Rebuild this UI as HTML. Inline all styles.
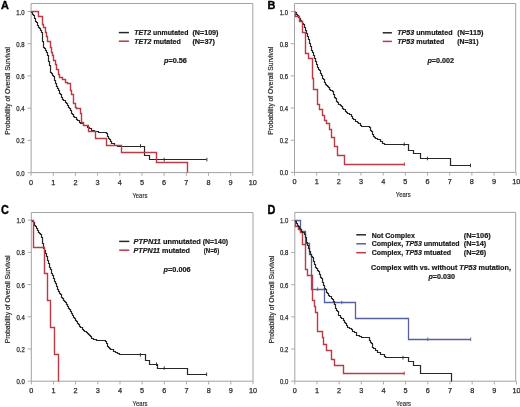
<!DOCTYPE html>
<html><head><meta charset="utf-8"><style>
html,body{margin:0;padding:0;background:#fff;}
svg{display:block;}
text{font-family:"Liberation Sans", sans-serif;}
</style></head><body>
<svg width="520" height="407" viewBox="0 0 520 407">
<defs><filter id="bl" x="0" y="0" width="100%" height="100%"><feGaussianBlur stdDeviation="0.35"/></filter></defs>
<rect width="520" height="407" fill="#fff"/>
<g filter="url(#bl)">
<path d="M31.1,3.5 H252.8 V172.6 H31.1 Z" fill="none" stroke="#a2a2a2" stroke-width="1"/>
<line x1="27.5" y1="172.60" x2="31.1" y2="172.60" stroke="#a2a2a2" stroke-width="0.9"/>
<text x="24.6" y="175.60" text-anchor="end" font-size="7" fill="#2a2a2a" stroke="#2a2a2a" stroke-width="0.25" textLength="8.3" lengthAdjust="spacingAndGlyphs">0.0</text>
<line x1="27.5" y1="140.38" x2="31.1" y2="140.38" stroke="#a2a2a2" stroke-width="0.9"/>
<text x="24.6" y="143.38" text-anchor="end" font-size="7" fill="#2a2a2a" stroke="#2a2a2a" stroke-width="0.25" textLength="8.3" lengthAdjust="spacingAndGlyphs">0.2</text>
<line x1="27.5" y1="108.16" x2="31.1" y2="108.16" stroke="#a2a2a2" stroke-width="0.9"/>
<text x="24.6" y="111.16" text-anchor="end" font-size="7" fill="#2a2a2a" stroke="#2a2a2a" stroke-width="0.25" textLength="8.3" lengthAdjust="spacingAndGlyphs">0.4</text>
<line x1="27.5" y1="75.94" x2="31.1" y2="75.94" stroke="#a2a2a2" stroke-width="0.9"/>
<text x="24.6" y="78.94" text-anchor="end" font-size="7" fill="#2a2a2a" stroke="#2a2a2a" stroke-width="0.25" textLength="8.3" lengthAdjust="spacingAndGlyphs">0.6</text>
<line x1="27.5" y1="43.72" x2="31.1" y2="43.72" stroke="#a2a2a2" stroke-width="0.9"/>
<text x="24.6" y="46.72" text-anchor="end" font-size="7" fill="#2a2a2a" stroke="#2a2a2a" stroke-width="0.25" textLength="8.3" lengthAdjust="spacingAndGlyphs">0.8</text>
<line x1="27.5" y1="11.50" x2="31.1" y2="11.50" stroke="#a2a2a2" stroke-width="0.9"/>
<text x="24.6" y="14.50" text-anchor="end" font-size="7" fill="#2a2a2a" stroke="#2a2a2a" stroke-width="0.25" textLength="8.3" lengthAdjust="spacingAndGlyphs">1.0</text>
<line x1="31.10" y1="172.6" x2="31.10" y2="175.79999999999998" stroke="#a2a2a2" stroke-width="0.9"/>
<text x="31.10" y="184.50" text-anchor="middle" font-size="7.3" fill="#2a2a2a" stroke="#2a2a2a" stroke-width="0.25">0</text>
<line x1="53.27" y1="172.6" x2="53.27" y2="175.79999999999998" stroke="#a2a2a2" stroke-width="0.9"/>
<text x="53.27" y="184.50" text-anchor="middle" font-size="7.3" fill="#2a2a2a" stroke="#2a2a2a" stroke-width="0.25">1</text>
<line x1="75.44" y1="172.6" x2="75.44" y2="175.79999999999998" stroke="#a2a2a2" stroke-width="0.9"/>
<text x="75.44" y="184.50" text-anchor="middle" font-size="7.3" fill="#2a2a2a" stroke="#2a2a2a" stroke-width="0.25">2</text>
<line x1="97.61" y1="172.6" x2="97.61" y2="175.79999999999998" stroke="#a2a2a2" stroke-width="0.9"/>
<text x="97.61" y="184.50" text-anchor="middle" font-size="7.3" fill="#2a2a2a" stroke="#2a2a2a" stroke-width="0.25">3</text>
<line x1="119.78" y1="172.6" x2="119.78" y2="175.79999999999998" stroke="#a2a2a2" stroke-width="0.9"/>
<text x="119.78" y="184.50" text-anchor="middle" font-size="7.3" fill="#2a2a2a" stroke="#2a2a2a" stroke-width="0.25">4</text>
<line x1="141.95" y1="172.6" x2="141.95" y2="175.79999999999998" stroke="#a2a2a2" stroke-width="0.9"/>
<text x="141.95" y="184.50" text-anchor="middle" font-size="7.3" fill="#2a2a2a" stroke="#2a2a2a" stroke-width="0.25">5</text>
<line x1="164.12" y1="172.6" x2="164.12" y2="175.79999999999998" stroke="#a2a2a2" stroke-width="0.9"/>
<text x="164.12" y="184.50" text-anchor="middle" font-size="7.3" fill="#2a2a2a" stroke="#2a2a2a" stroke-width="0.25">6</text>
<line x1="186.29" y1="172.6" x2="186.29" y2="175.79999999999998" stroke="#a2a2a2" stroke-width="0.9"/>
<text x="186.29" y="184.50" text-anchor="middle" font-size="7.3" fill="#2a2a2a" stroke="#2a2a2a" stroke-width="0.25">7</text>
<line x1="208.46" y1="172.6" x2="208.46" y2="175.79999999999998" stroke="#a2a2a2" stroke-width="0.9"/>
<text x="208.46" y="184.50" text-anchor="middle" font-size="7.3" fill="#2a2a2a" stroke="#2a2a2a" stroke-width="0.25">8</text>
<line x1="230.63" y1="172.6" x2="230.63" y2="175.79999999999998" stroke="#a2a2a2" stroke-width="0.9"/>
<text x="230.63" y="184.50" text-anchor="middle" font-size="7.3" fill="#2a2a2a" stroke="#2a2a2a" stroke-width="0.25">9</text>
<line x1="252.80" y1="172.6" x2="252.80" y2="175.79999999999998" stroke="#a2a2a2" stroke-width="0.9"/>
<text x="252.80" y="184.50" text-anchor="middle" font-size="7.3" fill="#2a2a2a" stroke="#2a2a2a" stroke-width="0.25">10</text>
<text x="139.90" y="197.60" text-anchor="middle" font-size="6.6" fill="#2a2a2a" stroke="#2a2a2a" stroke-width="0.15" textLength="15.0" lengthAdjust="spacingAndGlyphs">Years</text>
<text transform="translate(9.90,90.85) rotate(-90)" x="0" y="0" text-anchor="middle" font-size="6.5" fill="#2a2a2a" stroke="#2a2a2a" stroke-width="0.18" textLength="87.8" lengthAdjust="spacingAndGlyphs">Probability of Overall Survival</text>
<text x="0.9" y="8.6" font-size="11.2" font-weight="bold" fill="#000" stroke="#000" stroke-width="0.35" textLength="7.9" lengthAdjust="spacingAndGlyphs">A</text>
<path d="M294.5,3.5 H515.7 V172.4 H294.5 Z" fill="none" stroke="#a2a2a2" stroke-width="1"/>
<line x1="290.9" y1="172.40" x2="294.5" y2="172.40" stroke="#a2a2a2" stroke-width="0.9"/>
<text x="288.0" y="175.40" text-anchor="end" font-size="7" fill="#2a2a2a" stroke="#2a2a2a" stroke-width="0.25" textLength="8.3" lengthAdjust="spacingAndGlyphs">0.0</text>
<line x1="290.9" y1="140.22" x2="294.5" y2="140.22" stroke="#a2a2a2" stroke-width="0.9"/>
<text x="288.0" y="143.22" text-anchor="end" font-size="7" fill="#2a2a2a" stroke="#2a2a2a" stroke-width="0.25" textLength="8.3" lengthAdjust="spacingAndGlyphs">0.2</text>
<line x1="290.9" y1="108.04" x2="294.5" y2="108.04" stroke="#a2a2a2" stroke-width="0.9"/>
<text x="288.0" y="111.04" text-anchor="end" font-size="7" fill="#2a2a2a" stroke="#2a2a2a" stroke-width="0.25" textLength="8.3" lengthAdjust="spacingAndGlyphs">0.4</text>
<line x1="290.9" y1="75.86" x2="294.5" y2="75.86" stroke="#a2a2a2" stroke-width="0.9"/>
<text x="288.0" y="78.86" text-anchor="end" font-size="7" fill="#2a2a2a" stroke="#2a2a2a" stroke-width="0.25" textLength="8.3" lengthAdjust="spacingAndGlyphs">0.6</text>
<line x1="290.9" y1="43.68" x2="294.5" y2="43.68" stroke="#a2a2a2" stroke-width="0.9"/>
<text x="288.0" y="46.68" text-anchor="end" font-size="7" fill="#2a2a2a" stroke="#2a2a2a" stroke-width="0.25" textLength="8.3" lengthAdjust="spacingAndGlyphs">0.8</text>
<line x1="290.9" y1="11.50" x2="294.5" y2="11.50" stroke="#a2a2a2" stroke-width="0.9"/>
<text x="288.0" y="14.50" text-anchor="end" font-size="7" fill="#2a2a2a" stroke="#2a2a2a" stroke-width="0.25" textLength="8.3" lengthAdjust="spacingAndGlyphs">1.0</text>
<line x1="294.50" y1="172.4" x2="294.50" y2="175.6" stroke="#a2a2a2" stroke-width="0.9"/>
<text x="294.50" y="184.30" text-anchor="middle" font-size="7.3" fill="#2a2a2a" stroke="#2a2a2a" stroke-width="0.25">0</text>
<line x1="316.67" y1="172.4" x2="316.67" y2="175.6" stroke="#a2a2a2" stroke-width="0.9"/>
<text x="316.67" y="184.30" text-anchor="middle" font-size="7.3" fill="#2a2a2a" stroke="#2a2a2a" stroke-width="0.25">1</text>
<line x1="338.84" y1="172.4" x2="338.84" y2="175.6" stroke="#a2a2a2" stroke-width="0.9"/>
<text x="338.84" y="184.30" text-anchor="middle" font-size="7.3" fill="#2a2a2a" stroke="#2a2a2a" stroke-width="0.25">2</text>
<line x1="361.01" y1="172.4" x2="361.01" y2="175.6" stroke="#a2a2a2" stroke-width="0.9"/>
<text x="361.01" y="184.30" text-anchor="middle" font-size="7.3" fill="#2a2a2a" stroke="#2a2a2a" stroke-width="0.25">3</text>
<line x1="383.18" y1="172.4" x2="383.18" y2="175.6" stroke="#a2a2a2" stroke-width="0.9"/>
<text x="383.18" y="184.30" text-anchor="middle" font-size="7.3" fill="#2a2a2a" stroke="#2a2a2a" stroke-width="0.25">4</text>
<line x1="405.35" y1="172.4" x2="405.35" y2="175.6" stroke="#a2a2a2" stroke-width="0.9"/>
<text x="405.35" y="184.30" text-anchor="middle" font-size="7.3" fill="#2a2a2a" stroke="#2a2a2a" stroke-width="0.25">5</text>
<line x1="427.52" y1="172.4" x2="427.52" y2="175.6" stroke="#a2a2a2" stroke-width="0.9"/>
<text x="427.52" y="184.30" text-anchor="middle" font-size="7.3" fill="#2a2a2a" stroke="#2a2a2a" stroke-width="0.25">6</text>
<line x1="449.69" y1="172.4" x2="449.69" y2="175.6" stroke="#a2a2a2" stroke-width="0.9"/>
<text x="449.69" y="184.30" text-anchor="middle" font-size="7.3" fill="#2a2a2a" stroke="#2a2a2a" stroke-width="0.25">7</text>
<line x1="471.86" y1="172.4" x2="471.86" y2="175.6" stroke="#a2a2a2" stroke-width="0.9"/>
<text x="471.86" y="184.30" text-anchor="middle" font-size="7.3" fill="#2a2a2a" stroke="#2a2a2a" stroke-width="0.25">8</text>
<line x1="494.03" y1="172.4" x2="494.03" y2="175.6" stroke="#a2a2a2" stroke-width="0.9"/>
<text x="494.03" y="184.30" text-anchor="middle" font-size="7.3" fill="#2a2a2a" stroke="#2a2a2a" stroke-width="0.25">9</text>
<line x1="516.20" y1="172.4" x2="516.20" y2="175.6" stroke="#a2a2a2" stroke-width="0.9"/>
<text x="516.20" y="184.30" text-anchor="middle" font-size="7.3" fill="#2a2a2a" stroke="#2a2a2a" stroke-width="0.25">10</text>
<text x="403.30" y="197.40" text-anchor="middle" font-size="6.6" fill="#2a2a2a" stroke="#2a2a2a" stroke-width="0.15" textLength="15.0" lengthAdjust="spacingAndGlyphs">Years</text>
<text transform="translate(273.30,90.75) rotate(-90)" x="0" y="0" text-anchor="middle" font-size="6.5" fill="#2a2a2a" stroke="#2a2a2a" stroke-width="0.18" textLength="87.8" lengthAdjust="spacingAndGlyphs">Probability of Overall Survival</text>
<text x="267.6" y="8.6" font-size="11.2" font-weight="bold" fill="#000" stroke="#000" stroke-width="0.35" textLength="7.9" lengthAdjust="spacingAndGlyphs">B</text>
<path d="M31.3,212.5 H253.0 V381.2 H31.3 Z" fill="none" stroke="#a2a2a2" stroke-width="1"/>
<line x1="27.7" y1="381.20" x2="31.3" y2="381.20" stroke="#a2a2a2" stroke-width="0.9"/>
<text x="24.8" y="384.20" text-anchor="end" font-size="7" fill="#2a2a2a" stroke="#2a2a2a" stroke-width="0.25" textLength="8.3" lengthAdjust="spacingAndGlyphs">0.0</text>
<line x1="27.7" y1="348.98" x2="31.3" y2="348.98" stroke="#a2a2a2" stroke-width="0.9"/>
<text x="24.8" y="351.98" text-anchor="end" font-size="7" fill="#2a2a2a" stroke="#2a2a2a" stroke-width="0.25" textLength="8.3" lengthAdjust="spacingAndGlyphs">0.2</text>
<line x1="27.7" y1="316.76" x2="31.3" y2="316.76" stroke="#a2a2a2" stroke-width="0.9"/>
<text x="24.8" y="319.76" text-anchor="end" font-size="7" fill="#2a2a2a" stroke="#2a2a2a" stroke-width="0.25" textLength="8.3" lengthAdjust="spacingAndGlyphs">0.4</text>
<line x1="27.7" y1="284.54" x2="31.3" y2="284.54" stroke="#a2a2a2" stroke-width="0.9"/>
<text x="24.8" y="287.54" text-anchor="end" font-size="7" fill="#2a2a2a" stroke="#2a2a2a" stroke-width="0.25" textLength="8.3" lengthAdjust="spacingAndGlyphs">0.6</text>
<line x1="27.7" y1="252.32" x2="31.3" y2="252.32" stroke="#a2a2a2" stroke-width="0.9"/>
<text x="24.8" y="255.32" text-anchor="end" font-size="7" fill="#2a2a2a" stroke="#2a2a2a" stroke-width="0.25" textLength="8.3" lengthAdjust="spacingAndGlyphs">0.8</text>
<line x1="27.7" y1="220.10" x2="31.3" y2="220.10" stroke="#a2a2a2" stroke-width="0.9"/>
<text x="24.8" y="223.10" text-anchor="end" font-size="7" fill="#2a2a2a" stroke="#2a2a2a" stroke-width="0.25" textLength="8.3" lengthAdjust="spacingAndGlyphs">1.0</text>
<line x1="31.30" y1="381.2" x2="31.30" y2="384.4" stroke="#a2a2a2" stroke-width="0.9"/>
<text x="31.30" y="393.10" text-anchor="middle" font-size="7.3" fill="#2a2a2a" stroke="#2a2a2a" stroke-width="0.25">0</text>
<line x1="53.47" y1="381.2" x2="53.47" y2="384.4" stroke="#a2a2a2" stroke-width="0.9"/>
<text x="53.47" y="393.10" text-anchor="middle" font-size="7.3" fill="#2a2a2a" stroke="#2a2a2a" stroke-width="0.25">1</text>
<line x1="75.64" y1="381.2" x2="75.64" y2="384.4" stroke="#a2a2a2" stroke-width="0.9"/>
<text x="75.64" y="393.10" text-anchor="middle" font-size="7.3" fill="#2a2a2a" stroke="#2a2a2a" stroke-width="0.25">2</text>
<line x1="97.81" y1="381.2" x2="97.81" y2="384.4" stroke="#a2a2a2" stroke-width="0.9"/>
<text x="97.81" y="393.10" text-anchor="middle" font-size="7.3" fill="#2a2a2a" stroke="#2a2a2a" stroke-width="0.25">3</text>
<line x1="119.98" y1="381.2" x2="119.98" y2="384.4" stroke="#a2a2a2" stroke-width="0.9"/>
<text x="119.98" y="393.10" text-anchor="middle" font-size="7.3" fill="#2a2a2a" stroke="#2a2a2a" stroke-width="0.25">4</text>
<line x1="142.15" y1="381.2" x2="142.15" y2="384.4" stroke="#a2a2a2" stroke-width="0.9"/>
<text x="142.15" y="393.10" text-anchor="middle" font-size="7.3" fill="#2a2a2a" stroke="#2a2a2a" stroke-width="0.25">5</text>
<line x1="164.32" y1="381.2" x2="164.32" y2="384.4" stroke="#a2a2a2" stroke-width="0.9"/>
<text x="164.32" y="393.10" text-anchor="middle" font-size="7.3" fill="#2a2a2a" stroke="#2a2a2a" stroke-width="0.25">6</text>
<line x1="186.49" y1="381.2" x2="186.49" y2="384.4" stroke="#a2a2a2" stroke-width="0.9"/>
<text x="186.49" y="393.10" text-anchor="middle" font-size="7.3" fill="#2a2a2a" stroke="#2a2a2a" stroke-width="0.25">7</text>
<line x1="208.66" y1="381.2" x2="208.66" y2="384.4" stroke="#a2a2a2" stroke-width="0.9"/>
<text x="208.66" y="393.10" text-anchor="middle" font-size="7.3" fill="#2a2a2a" stroke="#2a2a2a" stroke-width="0.25">8</text>
<line x1="230.83" y1="381.2" x2="230.83" y2="384.4" stroke="#a2a2a2" stroke-width="0.9"/>
<text x="230.83" y="393.10" text-anchor="middle" font-size="7.3" fill="#2a2a2a" stroke="#2a2a2a" stroke-width="0.25">9</text>
<line x1="253.00" y1="381.2" x2="253.00" y2="384.4" stroke="#a2a2a2" stroke-width="0.9"/>
<text x="253.00" y="393.10" text-anchor="middle" font-size="7.3" fill="#2a2a2a" stroke="#2a2a2a" stroke-width="0.25">10</text>
<text x="140.10" y="406.20" text-anchor="middle" font-size="6.6" fill="#2a2a2a" stroke="#2a2a2a" stroke-width="0.15" textLength="15.0" lengthAdjust="spacingAndGlyphs">Years</text>
<text transform="translate(10.10,299.45) rotate(-90)" x="0" y="0" text-anchor="middle" font-size="6.5" fill="#2a2a2a" stroke="#2a2a2a" stroke-width="0.18" textLength="87.8" lengthAdjust="spacingAndGlyphs">Probability of Overall Survival</text>
<text x="0.9" y="213.5" font-size="12" font-weight="bold" fill="#000" stroke="#000" stroke-width="0.35" textLength="7.9" lengthAdjust="spacingAndGlyphs">C</text>
<path d="M294.8,212.4 H515.7 V381.2 H294.8 Z" fill="none" stroke="#a2a2a2" stroke-width="1"/>
<line x1="291.2" y1="381.20" x2="294.8" y2="381.20" stroke="#a2a2a2" stroke-width="0.9"/>
<text x="288.3" y="384.20" text-anchor="end" font-size="7" fill="#2a2a2a" stroke="#2a2a2a" stroke-width="0.25" textLength="8.3" lengthAdjust="spacingAndGlyphs">0.0</text>
<line x1="291.2" y1="349.02" x2="294.8" y2="349.02" stroke="#a2a2a2" stroke-width="0.9"/>
<text x="288.3" y="352.02" text-anchor="end" font-size="7" fill="#2a2a2a" stroke="#2a2a2a" stroke-width="0.25" textLength="8.3" lengthAdjust="spacingAndGlyphs">0.2</text>
<line x1="291.2" y1="316.84" x2="294.8" y2="316.84" stroke="#a2a2a2" stroke-width="0.9"/>
<text x="288.3" y="319.84" text-anchor="end" font-size="7" fill="#2a2a2a" stroke="#2a2a2a" stroke-width="0.25" textLength="8.3" lengthAdjust="spacingAndGlyphs">0.4</text>
<line x1="291.2" y1="284.66" x2="294.8" y2="284.66" stroke="#a2a2a2" stroke-width="0.9"/>
<text x="288.3" y="287.66" text-anchor="end" font-size="7" fill="#2a2a2a" stroke="#2a2a2a" stroke-width="0.25" textLength="8.3" lengthAdjust="spacingAndGlyphs">0.6</text>
<line x1="291.2" y1="252.48" x2="294.8" y2="252.48" stroke="#a2a2a2" stroke-width="0.9"/>
<text x="288.3" y="255.48" text-anchor="end" font-size="7" fill="#2a2a2a" stroke="#2a2a2a" stroke-width="0.25" textLength="8.3" lengthAdjust="spacingAndGlyphs">0.8</text>
<line x1="291.2" y1="220.30" x2="294.8" y2="220.30" stroke="#a2a2a2" stroke-width="0.9"/>
<text x="288.3" y="223.30" text-anchor="end" font-size="7" fill="#2a2a2a" stroke="#2a2a2a" stroke-width="0.25" textLength="8.3" lengthAdjust="spacingAndGlyphs">1.0</text>
<line x1="294.80" y1="381.2" x2="294.80" y2="384.4" stroke="#a2a2a2" stroke-width="0.9"/>
<text x="294.80" y="393.10" text-anchor="middle" font-size="7.3" fill="#2a2a2a" stroke="#2a2a2a" stroke-width="0.25">0</text>
<line x1="316.97" y1="381.2" x2="316.97" y2="384.4" stroke="#a2a2a2" stroke-width="0.9"/>
<text x="316.97" y="393.10" text-anchor="middle" font-size="7.3" fill="#2a2a2a" stroke="#2a2a2a" stroke-width="0.25">1</text>
<line x1="339.14" y1="381.2" x2="339.14" y2="384.4" stroke="#a2a2a2" stroke-width="0.9"/>
<text x="339.14" y="393.10" text-anchor="middle" font-size="7.3" fill="#2a2a2a" stroke="#2a2a2a" stroke-width="0.25">2</text>
<line x1="361.31" y1="381.2" x2="361.31" y2="384.4" stroke="#a2a2a2" stroke-width="0.9"/>
<text x="361.31" y="393.10" text-anchor="middle" font-size="7.3" fill="#2a2a2a" stroke="#2a2a2a" stroke-width="0.25">3</text>
<line x1="383.48" y1="381.2" x2="383.48" y2="384.4" stroke="#a2a2a2" stroke-width="0.9"/>
<text x="383.48" y="393.10" text-anchor="middle" font-size="7.3" fill="#2a2a2a" stroke="#2a2a2a" stroke-width="0.25">4</text>
<line x1="405.65" y1="381.2" x2="405.65" y2="384.4" stroke="#a2a2a2" stroke-width="0.9"/>
<text x="405.65" y="393.10" text-anchor="middle" font-size="7.3" fill="#2a2a2a" stroke="#2a2a2a" stroke-width="0.25">5</text>
<line x1="427.82" y1="381.2" x2="427.82" y2="384.4" stroke="#a2a2a2" stroke-width="0.9"/>
<text x="427.82" y="393.10" text-anchor="middle" font-size="7.3" fill="#2a2a2a" stroke="#2a2a2a" stroke-width="0.25">6</text>
<line x1="449.99" y1="381.2" x2="449.99" y2="384.4" stroke="#a2a2a2" stroke-width="0.9"/>
<text x="449.99" y="393.10" text-anchor="middle" font-size="7.3" fill="#2a2a2a" stroke="#2a2a2a" stroke-width="0.25">7</text>
<line x1="472.16" y1="381.2" x2="472.16" y2="384.4" stroke="#a2a2a2" stroke-width="0.9"/>
<text x="472.16" y="393.10" text-anchor="middle" font-size="7.3" fill="#2a2a2a" stroke="#2a2a2a" stroke-width="0.25">8</text>
<line x1="494.33" y1="381.2" x2="494.33" y2="384.4" stroke="#a2a2a2" stroke-width="0.9"/>
<text x="494.33" y="393.10" text-anchor="middle" font-size="7.3" fill="#2a2a2a" stroke="#2a2a2a" stroke-width="0.25">9</text>
<line x1="516.50" y1="381.2" x2="516.50" y2="384.4" stroke="#a2a2a2" stroke-width="0.9"/>
<text x="516.50" y="393.10" text-anchor="middle" font-size="7.3" fill="#2a2a2a" stroke="#2a2a2a" stroke-width="0.25">10</text>
<text x="403.60" y="406.20" text-anchor="middle" font-size="6.6" fill="#2a2a2a" stroke="#2a2a2a" stroke-width="0.15" textLength="15.0" lengthAdjust="spacingAndGlyphs">Years</text>
<text transform="translate(273.60,299.55) rotate(-90)" x="0" y="0" text-anchor="middle" font-size="6.5" fill="#2a2a2a" stroke="#2a2a2a" stroke-width="0.18" textLength="87.8" lengthAdjust="spacingAndGlyphs">Probability of Overall Survival</text>
<text x="267.6" y="213.5" font-size="12" font-weight="bold" fill="#000" stroke="#000" stroke-width="0.35" textLength="7.9" lengthAdjust="spacingAndGlyphs">D</text>
<path d="M31.5,11.5 L31.5,11.5 L31.5,12.5 L32.5,12.5 L32.5,14.5 L33.5,14.5 L33.5,15.5 L33.5,15.5 L34.5,15.5 L34.5,16.5 L34.5,16.5 L34.5,18.5 L35.5,18.5 L35.5,19.5 L35.5,19.5 L35.5,21.5 L36.5,21.5 L36.5,22.5 L36.5,22.5 L37.5,22.5 L37.5,24.5 L37.5,24.5 L37.5,25.5 L38.5,25.5 L38.5,27.5 L39.5,27.5 L39.5,28.5 L39.5,28.5 L40.5,28.5 L40.5,30.5 L41.5,30.5 L41.5,32.5 L42.5,32.5 L42.5,32.5 L42.5,33.5 L42.5,33.5 L42.5,35.5 L42.5,35.5 L42.5,37.5 L42.5,37.5 L42.5,38.5 L42.5,38.5 L42.5,40.5 L42.5,40.5 L42.5,40.5 L42.5,41.5 L43.5,41.5 L43.5,43.5 L43.5,43.5 L43.5,44.5 L43.5,44.5 L43.5,46.5 L43.5,46.5 L43.5,46.5 L43.5,47.5 L44.5,47.5 L44.5,48.5 L45.5,48.5 L45.5,50.5 L46.5,50.5 L46.5,51.5 L46.5,51.5 L46.5,51.5 L46.5,52.5 L47.5,52.5 L47.5,53.5 L47.5,53.5 L47.5,55.5 L47.5,55.5 L48.5,55.5 L48.5,56.5 L48.5,56.5 L48.5,58.5 L48.5,58.5 L48.5,59.5 L48.5,59.5 L48.5,61.5 L49.5,61.5 L49.5,62.5 L49.5,62.5 L49.5,62.5 L49.5,64.5 L49.5,64.5 L49.5,65.5 L50.5,65.5 L50.5,67.5 L50.5,67.5 L50.5,68.5 L50.5,68.5 L50.5,70.5 L50.5,70.5 L50.5,72.5 L50.5,72.5 L51.5,72.5 L51.5,73.5 L52.5,73.5 L52.5,75.5 L53.5,75.5 L53.5,76.5 L54.5,76.5 L54.5,78.5 L54.5,78.5 L54.5,78.5 L54.5,80.5 L55.5,80.5 L55.5,81.5 L55.5,81.5 L55.5,83.5 L56.5,83.5 L56.5,84.5 L56.5,84.5 L56.5,86.5 L56.5,86.5 L57.5,86.5 L57.5,87.5 L57.5,87.5 L57.5,88.5 L58.5,88.5 L58.5,90.5 L59.5,90.5 L59.5,91.5 L59.5,91.5 L59.5,91.5 L59.5,93.5 L60.5,93.5 L60.5,94.5 L61.5,94.5 L61.5,96.5 L61.5,96.5 L61.5,97.5 L62.5,97.5 L62.5,97.5 L62.5,99.5 L63.5,99.5 L63.5,100.5 L65.5,100.5 L65.5,102.5 L65.5,102.5 L66.5,102.5 L66.5,103.5 L67.5,103.5 L67.5,105.5 L68.5,105.5 L68.5,107.5 L69.5,107.5 L69.5,107.5 L69.5,108.5 L70.5,108.5 L70.5,110.5 L71.5,110.5 L71.5,111.5 L71.5,111.5 L71.5,113.5 L72.5,113.5 L72.5,113.5 L72.5,114.5 L73.5,114.5 L73.5,116.5 L74.5,116.5 L74.5,117.5 L76.5,117.5 L76.5,119.5 L76.5,119.5 L77.5,119.5 L77.5,120.5 L79.5,120.5 L79.5,122.5 L80.5,122.5 L80.5,123.5 L81.5,123.5 L83.5,123.5 L83.5,125.5 L85.5,125.5 L87.5,125.5 L87.5,127.5 L89.5,127.5 L89.5,127.5 L89.5,128.5 L91.5,128.5 L91.5,130.5 L92.5,130.5 L94.5,130.5 L94.5,131.5 L96.5,131.5 L98.5,131.5 L98.5,132.5 L100.5,132.5 L106.5,132.5 L106.5,132.5 L106.5,133.5 L107.5,133.5 L107.5,135.5 L107.5,135.5 L107.5,136.5 L108.5,136.5 L108.5,136.5 L108.5,138.5 L109.5,138.5 L109.5,139.5 L110.5,139.5 L110.5,141.5 L110.5,141.5 L111.5,141.5 L111.5,143.5 L112.5,143.5 L114.5,143.5 L114.5,145.5 L115.5,145.5 L117.5,145.5 L117.5,146.5 L118.5,146.5 L144.5,146.5 L144.5,155.5 L149.5,155.5 L149.5,159.5 L206.5,159.5" fill="none" stroke="#262626" stroke-width="1.2" stroke-linejoin="miter"/>
<path d="M31.5,11.5 L38.5,11.5 L38.5,16.5 L42.5,16.5 L42.5,24.5 L43.5,24.5 L43.5,27.5 L45.5,27.5 L45.5,32.5 L46.5,32.5 L46.5,36.5 L47.5,36.5 L47.5,41.5 L50.5,41.5 L50.5,47.5 L51.5,47.5 L51.5,52.5 L52.5,52.5 L52.5,55.5 L53.5,55.5 L53.5,60.5 L55.5,60.5 L55.5,64.5 L56.5,64.5 L56.5,69.5 L58.5,69.5 L58.5,74.5 L59.5,74.5 L59.5,77.5 L62.5,77.5 L62.5,79.5 L65.5,79.5 L65.5,82.5 L67.5,82.5 L67.5,83.5 L70.5,83.5 L70.5,86.5 L70.5,86.5 L70.5,90.5 L71.5,90.5 L71.5,94.5 L73.5,94.5 L73.5,99.5 L73.5,99.5 L73.5,103.5 L75.5,103.5 L75.5,107.5 L76.5,107.5 L76.5,108.5 L80.5,108.5 L80.5,113.5 L81.5,113.5 L81.5,119.5 L81.5,119.5 L81.5,122.5 L83.5,122.5 L83.5,125.5 L88.5,125.5 L88.5,131.5 L95.5,131.5 L95.5,138.5 L106.5,138.5 L106.5,145.5 L121.5,145.5 L121.5,152.5 L156.5,152.5 L156.5,162.5 L187.5,162.5 L187.5,172.5" fill="none" stroke="#b83a44" stroke-width="1.4" stroke-linejoin="miter"/>
<line x1="140.5" y1="144.1" x2="140.5" y2="147.70000000000002" stroke="#262626" stroke-width="0.9"/>
<line x1="164.2" y1="157.79999999999998" x2="164.2" y2="161.4" stroke="#262626" stroke-width="0.9"/>
<line x1="206.9" y1="157.79999999999998" x2="206.9" y2="161.4" stroke="#262626" stroke-width="0.9"/>
<path d="M295.5,11.5 L295.5,11.5 L295.5,12.5 L296.5,12.5 L296.5,14.5 L297.5,14.5 L297.5,15.5 L298.5,15.5 L298.5,17.5 L299.5,17.5 L299.5,18.5 L300.5,18.5 L300.5,18.5 L300.5,20.5 L301.5,20.5 L301.5,21.5 L302.5,21.5 L302.5,23.5 L303.5,23.5 L303.5,24.5 L303.5,24.5 L304.5,24.5 L304.5,26.5 L304.5,26.5 L304.5,27.5 L305.5,27.5 L305.5,29.5 L305.5,29.5 L305.5,30.5 L306.5,30.5 L306.5,30.5 L306.5,32.5 L306.5,32.5 L306.5,33.5 L307.5,33.5 L307.5,35.5 L307.5,35.5 L307.5,36.5 L308.5,36.5 L308.5,37.5 L308.5,37.5 L308.5,39.5 L309.5,39.5 L309.5,40.5 L309.5,40.5 L309.5,42.5 L309.5,42.5 L309.5,42.5 L309.5,43.5 L310.5,43.5 L310.5,44.5 L310.5,44.5 L310.5,46.5 L311.5,46.5 L311.5,47.5 L311.5,47.5 L311.5,48.5 L311.5,48.5 L311.5,50.5 L312.5,50.5 L312.5,51.5 L312.5,51.5 L312.5,51.5 L312.5,52.5 L313.5,52.5 L313.5,54.5 L313.5,54.5 L313.5,55.5 L314.5,55.5 L314.5,57.5 L314.5,57.5 L314.5,58.5 L315.5,58.5 L315.5,60.5 L315.5,60.5 L315.5,61.5 L316.5,61.5 L316.5,63.5 L316.5,63.5 L316.5,64.5 L317.5,64.5 L317.5,66.5 L317.5,66.5 L317.5,66.5 L317.5,67.5 L318.5,67.5 L318.5,69.5 L319.5,69.5 L319.5,70.5 L320.5,70.5 L320.5,72.5 L320.5,72.5 L320.5,73.5 L321.5,73.5 L321.5,75.5 L321.5,75.5 L322.5,75.5 L322.5,76.5 L322.5,76.5 L322.5,78.5 L323.5,78.5 L323.5,79.5 L324.5,79.5 L324.5,81.5 L324.5,81.5 L324.5,82.5 L325.5,82.5 L325.5,84.5 L325.5,84.5 L326.5,84.5 L326.5,85.5 L327.5,85.5 L327.5,86.5 L328.5,86.5 L328.5,87.5 L329.5,87.5 L329.5,89.5 L330.5,89.5 L330.5,90.5 L332.5,90.5 L332.5,91.5 L332.5,91.5 L333.5,91.5 L333.5,93.5 L333.5,93.5 L333.5,94.5 L334.5,94.5 L334.5,95.5 L334.5,95.5 L334.5,97.5 L335.5,97.5 L335.5,98.5 L336.5,98.5 L336.5,99.5 L336.5,99.5 L336.5,101.5 L337.5,101.5 L337.5,101.5 L337.5,102.5 L338.5,102.5 L338.5,104.5 L340.5,104.5 L340.5,105.5 L341.5,105.5 L341.5,106.5 L342.5,106.5 L342.5,108.5 L343.5,108.5 L343.5,108.5 L343.5,109.5 L345.5,109.5 L345.5,111.5 L346.5,111.5 L346.5,112.5 L347.5,112.5 L347.5,113.5 L348.5,113.5 L349.5,113.5 L349.5,114.5 L351.5,114.5 L351.5,114.5 L351.5,116.5 L352.5,116.5 L352.5,118.5 L353.5,118.5 L353.5,119.5 L354.5,119.5 L355.5,119.5 L355.5,121.5 L357.5,121.5 L357.5,122.5 L358.5,122.5 L358.5,122.5 L358.5,123.5 L360.5,123.5 L360.5,125.5 L361.5,125.5 L361.5,126.5 L361.5,126.5 L369.5,126.5 L369.5,126.5 L369.5,127.5 L370.5,127.5 L370.5,129.5 L370.5,129.5 L370.5,130.5 L371.5,130.5 L371.5,131.5 L372.5,131.5 L372.5,133.5 L372.5,133.5 L372.5,134.5 L373.5,134.5 L373.5,136.5 L373.5,136.5 L374.5,136.5 L374.5,137.5 L375.5,137.5 L375.5,138.5 L377.5,138.5 L377.5,139.5 L378.5,139.5 L380.5,139.5 L380.5,141.5 L382.5,141.5 L382.5,141.5 L382.5,143.5 L384.5,143.5 L384.5,144.5 L385.5,144.5 L408.5,144.5 L408.5,150.5 L413.5,150.5 L413.5,153.5 L420.5,153.5 L420.5,158.5 L450.5,158.5 L450.5,165.5 L470.5,165.5" fill="none" stroke="#262626" stroke-width="1.2" stroke-linejoin="miter"/>
<path d="M295.5,11.5 L295.5,11.5 L295.5,16.5 L299.5,16.5 L299.5,21.5 L302.5,21.5 L302.5,32.5 L305.5,32.5 L305.5,53.5 L308.5,53.5 L308.5,58.5 L312.5,58.5 L312.5,78.5 L313.5,78.5 L313.5,89.5 L317.5,89.5 L317.5,104.5 L319.5,104.5 L319.5,109.5 L322.5,109.5 L322.5,115.5 L324.5,115.5 L324.5,120.5 L326.5,120.5 L326.5,123.5 L329.5,123.5 L329.5,129.5 L331.5,129.5 L331.5,137.5 L334.5,137.5 L334.5,146.5 L337.5,146.5 L337.5,155.5 L344.5,155.5 L344.5,164.5 L404.5,164.5" fill="none" stroke="#b83a44" stroke-width="1.4" stroke-linejoin="miter"/>
<line x1="404.2" y1="142.5" x2="404.2" y2="146.10000000000002" stroke="#262626" stroke-width="0.9"/>
<line x1="427.4" y1="156.7" x2="427.4" y2="160.3" stroke="#262626" stroke-width="0.9"/>
<line x1="470.5" y1="163.6" x2="470.5" y2="167.20000000000002" stroke="#262626" stroke-width="0.9"/>
<line x1="404.4" y1="162.39999999999998" x2="404.4" y2="166.0" stroke="#b83a44" stroke-width="0.9"/>
<path d="M31.5,220.5 L32.5,220.5 L32.5,221.5 L33.5,221.5 L33.5,222.5 L34.5,222.5 L34.5,223.5 L34.5,223.5 L34.5,225.5 L35.5,225.5 L35.5,225.5 L35.5,226.5 L36.5,226.5 L36.5,227.5 L36.5,227.5 L36.5,228.5 L37.5,228.5 L37.5,230.5 L38.5,230.5 L38.5,231.5 L38.5,231.5 L38.5,232.5 L39.5,232.5 L39.5,232.5 L39.5,233.5 L40.5,233.5 L40.5,234.5 L41.5,234.5 L41.5,236.5 L41.5,236.5 L41.5,236.5 L41.5,237.5 L42.5,237.5 L42.5,238.5 L42.5,238.5 L42.5,239.5 L42.5,239.5 L42.5,240.5 L42.5,240.5 L42.5,241.5 L42.5,241.5 L42.5,242.5 L42.5,242.5 L42.5,243.5 L43.5,243.5 L43.5,245.5 L43.5,245.5 L43.5,246.5 L43.5,246.5 L43.5,247.5 L43.5,247.5 L43.5,247.5 L43.5,248.5 L44.5,248.5 L44.5,249.5 L44.5,249.5 L44.5,250.5 L45.5,250.5 L45.5,252.5 L45.5,252.5 L45.5,253.5 L46.5,253.5 L46.5,254.5 L46.5,254.5 L46.5,254.5 L46.5,255.5 L46.5,255.5 L46.5,256.5 L47.5,256.5 L47.5,258.5 L47.5,258.5 L47.5,259.5 L47.5,259.5 L47.5,260.5 L48.5,260.5 L48.5,261.5 L48.5,261.5 L48.5,262.5 L48.5,262.5 L48.5,263.5 L49.5,263.5 L49.5,265.5 L49.5,265.5 L49.5,266.5 L49.5,266.5 L49.5,267.5 L50.5,267.5 L50.5,267.5 L50.5,268.5 L50.5,268.5 L50.5,269.5 L51.5,269.5 L51.5,270.5 L51.5,270.5 L51.5,272.5 L51.5,272.5 L51.5,273.5 L52.5,273.5 L52.5,274.5 L52.5,274.5 L52.5,275.5 L53.5,275.5 L53.5,276.5 L53.5,276.5 L53.5,277.5 L53.5,277.5 L53.5,278.5 L54.5,278.5 L54.5,280.5 L54.5,280.5 L54.5,280.5 L54.5,281.5 L55.5,281.5 L55.5,282.5 L55.5,282.5 L55.5,283.5 L56.5,283.5 L56.5,284.5 L56.5,284.5 L56.5,285.5 L56.5,285.5 L56.5,286.5 L57.5,286.5 L57.5,288.5 L57.5,288.5 L57.5,289.5 L58.5,289.5 L58.5,290.5 L58.5,290.5 L58.5,290.5 L58.5,291.5 L59.5,291.5 L59.5,292.5 L59.5,292.5 L59.5,293.5 L60.5,293.5 L60.5,294.5 L61.5,294.5 L61.5,295.5 L61.5,295.5 L61.5,297.5 L62.5,297.5 L62.5,298.5 L63.5,298.5 L63.5,299.5 L63.5,299.5 L63.5,299.5 L63.5,300.5 L64.5,300.5 L64.5,301.5 L65.5,301.5 L65.5,302.5 L66.5,302.5 L66.5,303.5 L66.5,303.5 L66.5,304.5 L67.5,304.5 L67.5,306.5 L68.5,306.5 L68.5,307.5 L68.5,307.5 L68.5,307.5 L68.5,308.5 L69.5,308.5 L69.5,309.5 L70.5,309.5 L70.5,310.5 L70.5,310.5 L70.5,311.5 L71.5,311.5 L71.5,312.5 L71.5,312.5 L71.5,313.5 L72.5,313.5 L72.5,315.5 L73.5,315.5 L73.5,316.5 L73.5,316.5 L73.5,317.5 L73.5,317.5 L74.5,317.5 L74.5,318.5 L75.5,318.5 L75.5,319.5 L75.5,319.5 L75.5,320.5 L76.5,320.5 L76.5,321.5 L77.5,321.5 L77.5,323.5 L78.5,323.5 L78.5,324.5 L79.5,324.5 L79.5,325.5 L79.5,325.5 L79.5,326.5 L80.5,326.5 L80.5,326.5 L80.5,327.5 L82.5,327.5 L82.5,329.5 L83.5,329.5 L83.5,330.5 L84.5,330.5 L84.5,331.5 L85.5,331.5 L86.5,331.5 L86.5,332.5 L87.5,332.5 L87.5,333.5 L88.5,333.5 L88.5,334.5 L89.5,334.5 L89.5,335.5 L90.5,335.5 L90.5,336.5 L91.5,336.5 L91.5,338.5 L91.5,338.5 L93.5,338.5 L93.5,339.5 L96.5,339.5 L96.5,340.5 L98.5,340.5 L105.5,340.5 L105.5,340.5 L105.5,341.5 L106.5,341.5 L106.5,342.5 L106.5,342.5 L106.5,343.5 L107.5,343.5 L107.5,345.5 L107.5,345.5 L107.5,346.5 L108.5,346.5 L108.5,346.5 L108.5,347.5 L109.5,347.5 L109.5,348.5 L110.5,348.5 L110.5,349.5 L111.5,349.5 L113.5,349.5 L113.5,351.5 L115.5,351.5 L115.5,351.5 L115.5,352.5 L117.5,352.5 L117.5,353.5 L118.5,353.5 L119.5,353.5 L119.5,354.5 L121.5,354.5 L121.5,354.5 L121.5,354.5 L145.5,354.5 L145.5,360.5 L149.5,360.5 L149.5,364.5 L157.5,364.5 L157.5,368.5 L187.5,368.5 L187.5,374.5 L206.5,374.5" fill="none" stroke="#262626" stroke-width="1.2" stroke-linejoin="miter"/>
<path d="M31.5,220.5 L33.5,220.5 L33.5,247.5 L44.5,247.5 L44.5,273.5 L47.5,273.5 L47.5,300.5 L50.5,300.5 L50.5,327.5 L54.5,327.5 L54.5,354.5 L58.5,354.5 L58.5,381.5" fill="none" stroke="#b83a44" stroke-width="1.4" stroke-linejoin="miter"/>
<line x1="140.4" y1="353.09999999999997" x2="140.4" y2="356.7" stroke="#262626" stroke-width="0.9"/>
<line x1="156.5" y1="362.4" x2="156.5" y2="366.0" stroke="#262626" stroke-width="0.9"/>
<line x1="164.2" y1="366.3" x2="164.2" y2="369.90000000000003" stroke="#262626" stroke-width="0.9"/>
<line x1="206.6" y1="372.5" x2="206.6" y2="376.1" stroke="#262626" stroke-width="0.9"/>
<path d="M295.5,220.5 L300.5,220.5 L300.5,231.5 L305.5,231.5 L305.5,243.5 L309.5,243.5 L309.5,254.5 L311.5,254.5 L311.5,289.5 L324.5,289.5 L324.5,302.5 L355.5,302.5 L355.5,318.5 L408.5,318.5 L408.5,339.5 L470.5,339.5" fill="none" stroke="#55619f" stroke-width="1.3" stroke-linejoin="miter"/>
<path d="M295.5,220.5 L295.5,220.5 L295.5,226.5 L298.5,226.5 L298.5,229.5 L300.5,229.5 L300.5,232.5 L302.5,232.5 L302.5,244.5 L305.5,244.5 L305.5,269.5 L307.5,269.5 L307.5,275.5 L312.5,275.5 L312.5,300.5 L314.5,300.5 L314.5,306.5 L315.5,306.5 L315.5,312.5 L317.5,312.5 L317.5,331.5 L322.5,331.5 L322.5,337.5 L323.5,337.5 L323.5,344.5 L326.5,344.5 L326.5,350.5 L331.5,350.5 L331.5,359.5 L334.5,359.5 L334.5,365.5 L343.5,365.5 L343.5,373.5 L404.5,373.5" fill="none" stroke="#b83a44" stroke-width="1.4" stroke-linejoin="miter"/>
<path d="M295.5,220.5 L295.5,220.5 L295.5,221.5 L296.5,221.5 L296.5,223.5 L297.5,223.5 L297.5,225.5 L298.5,225.5 L298.5,226.5 L299.5,226.5 L299.5,228.5 L300.5,228.5 L300.5,229.5 L301.5,229.5 L301.5,229.5 L301.5,231.5 L302.5,231.5 L302.5,232.5 L304.5,232.5 L304.5,234.5 L304.5,234.5 L305.5,234.5 L305.5,236.5 L305.5,236.5 L305.5,236.5 L305.5,237.5 L306.5,237.5 L306.5,239.5 L306.5,239.5 L306.5,240.5 L306.5,240.5 L306.5,242.5 L307.5,242.5 L307.5,244.5 L307.5,244.5 L307.5,244.5 L307.5,245.5 L308.5,245.5 L308.5,247.5 L308.5,247.5 L308.5,248.5 L309.5,248.5 L309.5,250.5 L309.5,250.5 L309.5,251.5 L310.5,251.5 L310.5,253.5 L310.5,253.5 L310.5,253.5 L310.5,254.5 L311.5,254.5 L311.5,256.5 L312.5,256.5 L312.5,257.5 L313.5,257.5 L313.5,259.5 L313.5,259.5 L313.5,259.5 L313.5,261.5 L314.5,261.5 L314.5,262.5 L314.5,262.5 L314.5,264.5 L315.5,264.5 L315.5,265.5 L315.5,265.5 L315.5,267.5 L316.5,267.5 L316.5,268.5 L316.5,268.5 L317.5,268.5 L317.5,270.5 L318.5,270.5 L318.5,271.5 L319.5,271.5 L319.5,272.5 L319.5,272.5 L319.5,272.5 L319.5,274.5 L320.5,274.5 L320.5,275.5 L320.5,275.5 L320.5,277.5 L321.5,277.5 L321.5,277.5 L321.5,278.5 L322.5,278.5 L322.5,280.5 L322.5,280.5 L322.5,282.5 L323.5,282.5 L323.5,283.5 L323.5,283.5 L323.5,283.5 L323.5,285.5 L324.5,285.5 L324.5,286.5 L324.5,286.5 L324.5,288.5 L325.5,288.5 L325.5,289.5 L325.5,289.5 L326.5,289.5 L326.5,291.5 L326.5,291.5 L326.5,292.5 L327.5,292.5 L327.5,293.5 L328.5,293.5 L328.5,293.5 L328.5,295.5 L329.5,295.5 L329.5,296.5 L330.5,296.5 L331.5,296.5 L331.5,298.5 L332.5,298.5 L332.5,299.5 L333.5,299.5 L333.5,301.5 L334.5,301.5 L334.5,301.5 L334.5,302.5 L334.5,302.5 L334.5,304.5 L335.5,304.5 L335.5,305.5 L335.5,305.5 L335.5,307.5 L335.5,307.5 L335.5,308.5 L336.5,308.5 L336.5,308.5 L336.5,310.5 L337.5,310.5 L337.5,311.5 L338.5,311.5 L338.5,313.5 L338.5,313.5 L338.5,315.5 L339.5,315.5 L340.5,315.5 L340.5,317.5 L341.5,317.5 L341.5,318.5 L342.5,318.5 L343.5,318.5 L343.5,320.5 L344.5,320.5 L344.5,322.5 L345.5,322.5 L345.5,323.5 L346.5,323.5 L346.5,325.5 L346.5,325.5 L347.5,325.5 L347.5,327.5 L349.5,327.5 L349.5,328.5 L351.5,328.5 L351.5,328.5 L351.5,329.5 L352.5,329.5 L352.5,331.5 L354.5,331.5 L354.5,332.5 L354.5,332.5 L356.5,332.5 L356.5,335.5 L358.5,335.5 L359.5,335.5 L359.5,336.5 L361.5,336.5 L361.5,337.5 L362.5,337.5 L368.5,337.5 L369.5,337.5 L369.5,339.5 L369.5,339.5 L369.5,340.5 L370.5,340.5 L370.5,342.5 L371.5,342.5 L371.5,343.5 L372.5,343.5 L372.5,345.5 L372.5,345.5 L372.5,347.5 L373.5,347.5 L373.5,347.5 L373.5,348.5 L375.5,348.5 L375.5,350.5 L377.5,350.5 L377.5,352.5 L378.5,352.5 L380.5,352.5 L380.5,354.5 L383.5,354.5 L384.5,354.5 L384.5,356.5 L385.5,356.5 L385.5,357.5 L385.5,357.5 L408.5,357.5 L408.5,361.5 L413.5,361.5 L413.5,365.5 L420.5,365.5 L420.5,373.5 L451.5,373.5 L451.5,381.5" fill="none" stroke="#262626" stroke-width="1.2" stroke-linejoin="miter"/>
<line x1="317.6" y1="287.3" x2="317.6" y2="290.90000000000003" stroke="#55619f" stroke-width="0.9"/>
<line x1="341.8" y1="300.7" x2="341.8" y2="304.3" stroke="#55619f" stroke-width="0.9"/>
<line x1="427.8" y1="337.4" x2="427.8" y2="341.0" stroke="#55619f" stroke-width="0.9"/>
<line x1="470.7" y1="337.4" x2="470.7" y2="341.0" stroke="#55619f" stroke-width="0.9"/>
<line x1="403" y1="355.9" x2="403" y2="359.5" stroke="#262626" stroke-width="0.9"/>
<line x1="404.2" y1="371.5" x2="404.2" y2="375.1" stroke="#b83a44" stroke-width="0.9"/>
<line x1="118.8" y1="32.6" x2="128.9" y2="32.6" stroke="#262626" stroke-width="1.5"/>
<line x1="118.8" y1="41.2" x2="128.9" y2="41.2" stroke="#b83a44" stroke-width="1.5"/>
<text x="134.2" y="34.7" font-size="7" font-weight="bold" fill="#1a1a1a" stroke="#1a1a1a" stroke-width="0.2" textLength="54.2" lengthAdjust="spacingAndGlyphs"><tspan font-style="italic">TET2</tspan> unmutated</text>
<text x="192.4" y="34.7" font-size="7" font-weight="bold" fill="#1a1a1a" stroke="#1a1a1a" stroke-width="0.2" textLength="26.1" lengthAdjust="spacingAndGlyphs">(N=109)</text>
<text x="134.2" y="43.6" font-size="7" font-weight="bold" fill="#1a1a1a" stroke="#1a1a1a" stroke-width="0.2" textLength="46.6" lengthAdjust="spacingAndGlyphs"><tspan font-style="italic">TET2</tspan> mutated</text>
<text x="192.4" y="43.6" font-size="7" font-weight="bold" fill="#1a1a1a" stroke="#1a1a1a" stroke-width="0.2" textLength="22.6" lengthAdjust="spacingAndGlyphs">(N=37)</text>
<text x="164" y="63" font-size="7" font-weight="bold" fill="#1a1a1a" stroke="#1a1a1a" stroke-width="0.2" textLength="22.9" lengthAdjust="spacingAndGlyphs"><tspan font-style="italic">p</tspan>=0.56</text>
<line x1="382.7" y1="32.8" x2="391.9" y2="32.8" stroke="#262626" stroke-width="1.5"/>
<line x1="382.7" y1="41.4" x2="391.9" y2="41.4" stroke="#b83a44" stroke-width="1.5"/>
<text x="397.2" y="34.7" font-size="7" font-weight="bold" fill="#1a1a1a" stroke="#1a1a1a" stroke-width="0.2" textLength="55.3" lengthAdjust="spacingAndGlyphs"><tspan font-style="italic">TP53</tspan> unmutated</text>
<text x="457.2" y="34.7" font-size="7" font-weight="bold" fill="#1a1a1a" stroke="#1a1a1a" stroke-width="0.2" textLength="26.3" lengthAdjust="spacingAndGlyphs">(N=115)</text>
<text x="397.2" y="43.6" font-size="7" font-weight="bold" fill="#1a1a1a" stroke="#1a1a1a" stroke-width="0.2" textLength="47.1" lengthAdjust="spacingAndGlyphs"><tspan font-style="italic">TP53</tspan> mutated</text>
<text x="457.2" y="43.6" font-size="7" font-weight="bold" fill="#1a1a1a" stroke="#1a1a1a" stroke-width="0.2" textLength="21.3" lengthAdjust="spacingAndGlyphs">(N=31)</text>
<text x="427.4" y="63.0" font-size="7" font-weight="bold" fill="#1a1a1a" stroke="#1a1a1a" stroke-width="0.2" textLength="26.6" lengthAdjust="spacingAndGlyphs"><tspan font-style="italic">p</tspan>=0.002</text>
<line x1="119.2" y1="241.4" x2="129.3" y2="241.4" stroke="#262626" stroke-width="1.5"/>
<line x1="119.2" y1="250.2" x2="129.3" y2="250.2" stroke="#b83a44" stroke-width="1.5"/>
<text x="133.5" y="244.2" font-size="7" font-weight="bold" fill="#1a1a1a" stroke="#1a1a1a" stroke-width="0.2" textLength="67.3" lengthAdjust="spacingAndGlyphs"><tspan font-style="italic">PTPN11</tspan> unmutated</text>
<text x="202.7" y="244.2" font-size="7" font-weight="bold" fill="#1a1a1a" stroke="#1a1a1a" stroke-width="0.2" textLength="25.4" lengthAdjust="spacingAndGlyphs">(N=140)</text>
<text x="133.5" y="253" font-size="7" font-weight="bold" fill="#1a1a1a" stroke="#1a1a1a" stroke-width="0.2" textLength="56.5" lengthAdjust="spacingAndGlyphs"><tspan font-style="italic">PTPN11</tspan> mutated</text>
<text x="203.8" y="253" font-size="7" font-weight="bold" fill="#1a1a1a" stroke="#1a1a1a" stroke-width="0.2" textLength="15.5" lengthAdjust="spacingAndGlyphs">(N=6)</text>
<text x="163.6" y="272.2" font-size="7" font-weight="bold" fill="#1a1a1a" stroke="#1a1a1a" stroke-width="0.2" textLength="27" lengthAdjust="spacingAndGlyphs"><tspan font-style="italic">p</tspan>=0.006</text>
<line x1="356.3" y1="234.8" x2="366" y2="234.8" stroke="#262626" stroke-width="1.5"/>
<line x1="356.3" y1="243.8" x2="366" y2="243.8" stroke="#55619f" stroke-width="1.5"/>
<line x1="356.3" y1="252.7" x2="366" y2="252.7" stroke="#b83a44" stroke-width="1.5"/>
<text x="371.7" y="237.6" font-size="7" font-weight="bold" fill="#1a1a1a" stroke="#1a1a1a" stroke-width="0.2">Not Complex</text>
<text x="463.8" y="237.6" font-size="7" font-weight="bold" fill="#1a1a1a" stroke="#1a1a1a" stroke-width="0.2" textLength="27" lengthAdjust="spacingAndGlyphs">(N=106)</text>
<text x="371.7" y="246.4" font-size="7" font-weight="bold" fill="#1a1a1a" stroke="#1a1a1a" stroke-width="0.2">Complex, <tspan font-style="italic">TP53</tspan> unmutated</text>
<text x="463.8" y="246.4" font-size="7" font-weight="bold" fill="#1a1a1a" stroke="#1a1a1a" stroke-width="0.2" textLength="22.5" lengthAdjust="spacingAndGlyphs">(N=14)</text>
<text x="371.7" y="255.3" font-size="7" font-weight="bold" fill="#1a1a1a" stroke="#1a1a1a" stroke-width="0.2">Complex, <tspan font-style="italic">TP53</tspan> mtuated</text>
<text x="463.8" y="255.3" font-size="7" font-weight="bold" fill="#1a1a1a" stroke="#1a1a1a" stroke-width="0.2" textLength="22.5" lengthAdjust="spacingAndGlyphs">(N=26)</text>
<text x="371.1" y="270.1" font-size="7" font-weight="bold" fill="#1a1a1a" stroke="#1a1a1a" stroke-width="0.2" textLength="139.8" lengthAdjust="spacingAndGlyphs">Complex with vs. without <tspan font-style="italic">TP53</tspan> mutation,</text>
<text x="428.4" y="279.1" font-size="7" font-weight="bold" fill="#1a1a1a" stroke="#1a1a1a" stroke-width="0.2" textLength="26.5" lengthAdjust="spacingAndGlyphs"><tspan font-style="italic">p</tspan>=0.030</text>
</g>
</svg>
</body></html>
